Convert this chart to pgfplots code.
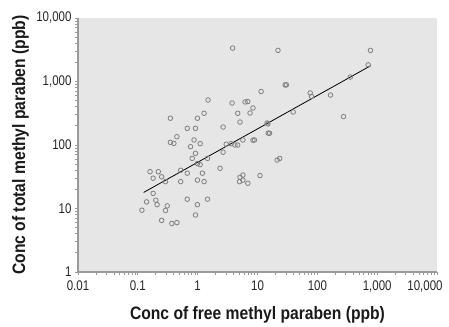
\documentclass[border=0pt]{standalone}
\usepackage{fontspec}
\setmainfont{Liberation Sans}
\newfontfamily\tickfont{Liberation Sans}[FakeStretch=0.82]
\newfontfamily\labfont{Liberation Sans}[FakeStretch=0.87]
\usepackage{pgfplots}
\pgfplotsset{compat=1.18}
\definecolor{bgc}{HTML}{E6E6E6}
\definecolor{axc}{HTML}{9A9A9A}
\begin{document}
\begin{tikzpicture}
\path (-78pt,-52pt) rectangle (371pt,272pt);
\begin{axis}[
  scale only axis, width=359pt, height=254pt,
  xmode=log, ymode=log,
  xmin=0.01, xmax=10000, ymin=1, ymax=10000,
  axis lines*=left,
  axis line style={draw=axc, line width=1.3pt},
  axis background/.style={fill=bgc},
  xtick={0.01,0.1,1,10,100,1000,10000},
  xticklabels={0.01,0.1,1,10,100,{1,000},{\makebox[0pt]{\hspace*{-24pt}10,000}}},
  ytick={1,10,100,1000,10000},
  yticklabels={1,10,100,{1,000},{10,000}},
  minor xtick={}, minor ytick={},
  tick align=outside, major tick length=3pt,
  tick style={draw=axc, line width=0.8pt},
  tick label style={font=\tickfont\fontsize{14}{14}\selectfont, text=black!85},
  xticklabel style={yshift=-2pt},
  yticklabel style={xshift=0pt},
  xlabel={Conc of free methyl paraben (ppb)},
  ylabel={Conc of total methyl paraben (ppb)},
  label style={font=\labfont\fontsize{18}{18}\selectfont\bfseries, text=black!90},
  xlabel style={at={(axis description cs:0.5,-0.186)}, anchor=base},
  ylabel style={at={(axis description cs:-0.1476,0.5)}, anchor=base, rotate=0},
  clip=false,
]
\addplot[only marks, mark=o, mark size=2.3pt, mark options={draw=black!50, line width=0.8pt}]
coordinates {
(3.84,3360) (22,3090) (773,3090) (30.4,886) (11.5,695) (1.49,512) (3.76,458)
(6.2,476) (8.4,383) (7.5,319) (5.1,230) (2.66,192) (14.5,222) (15.1,154)
(8.4,119) (4.2,100) (2.66,77) (21.3,58) (2.37,43) (5.1,31) (11,33)
(39.5,331) (76,661) (80,580) (29,883) (274,280) (166,612) (355,1175) (708,1830)
(4.67,316) (1.28,316) (0.35,264) (0.99,264) (0.92,183) (0.67,183)
(5.7,120) (3.0,103) (3.6,105) (0.45,135) (0.40,106) (0.35,110) (0.87,120)
(1.1,105) (0.76,94) (0.92,74) (0.81,61.5) (0.99,51) (1.1,49) (1.46,61.5)
(23.5,61.5) (5.7,33.6) (5.7,28) (5.0,26.5) (6.9,25)
(0.16,38) (0.22,38) (0.25,31.6) (0.18,30) (0.29,26.5) (0.52,40) (0.67,36)
(0.52,26.5) (0.99,28) (1.2,36) (1.28,26.5)
(0.14,12.7) (0.18,17.3) (0.20,13.5) (0.117,9.4) (0.21,11.5) (0.31,11)
(0.29,9.3) (0.25,6.5) (0.37,5.8) (0.45,6) (0.67,14) (0.92,7.9) (0.99,11.5)
(1.46,14) (6.87,483) (14.9,215) (15.9,153) (8.9,120) (4.67,100)
};
\addplot[black, line width=0.8pt] coordinates {(0.125,17.9) (773,1766)};
\end{axis}
\end{tikzpicture}
\end{document}
